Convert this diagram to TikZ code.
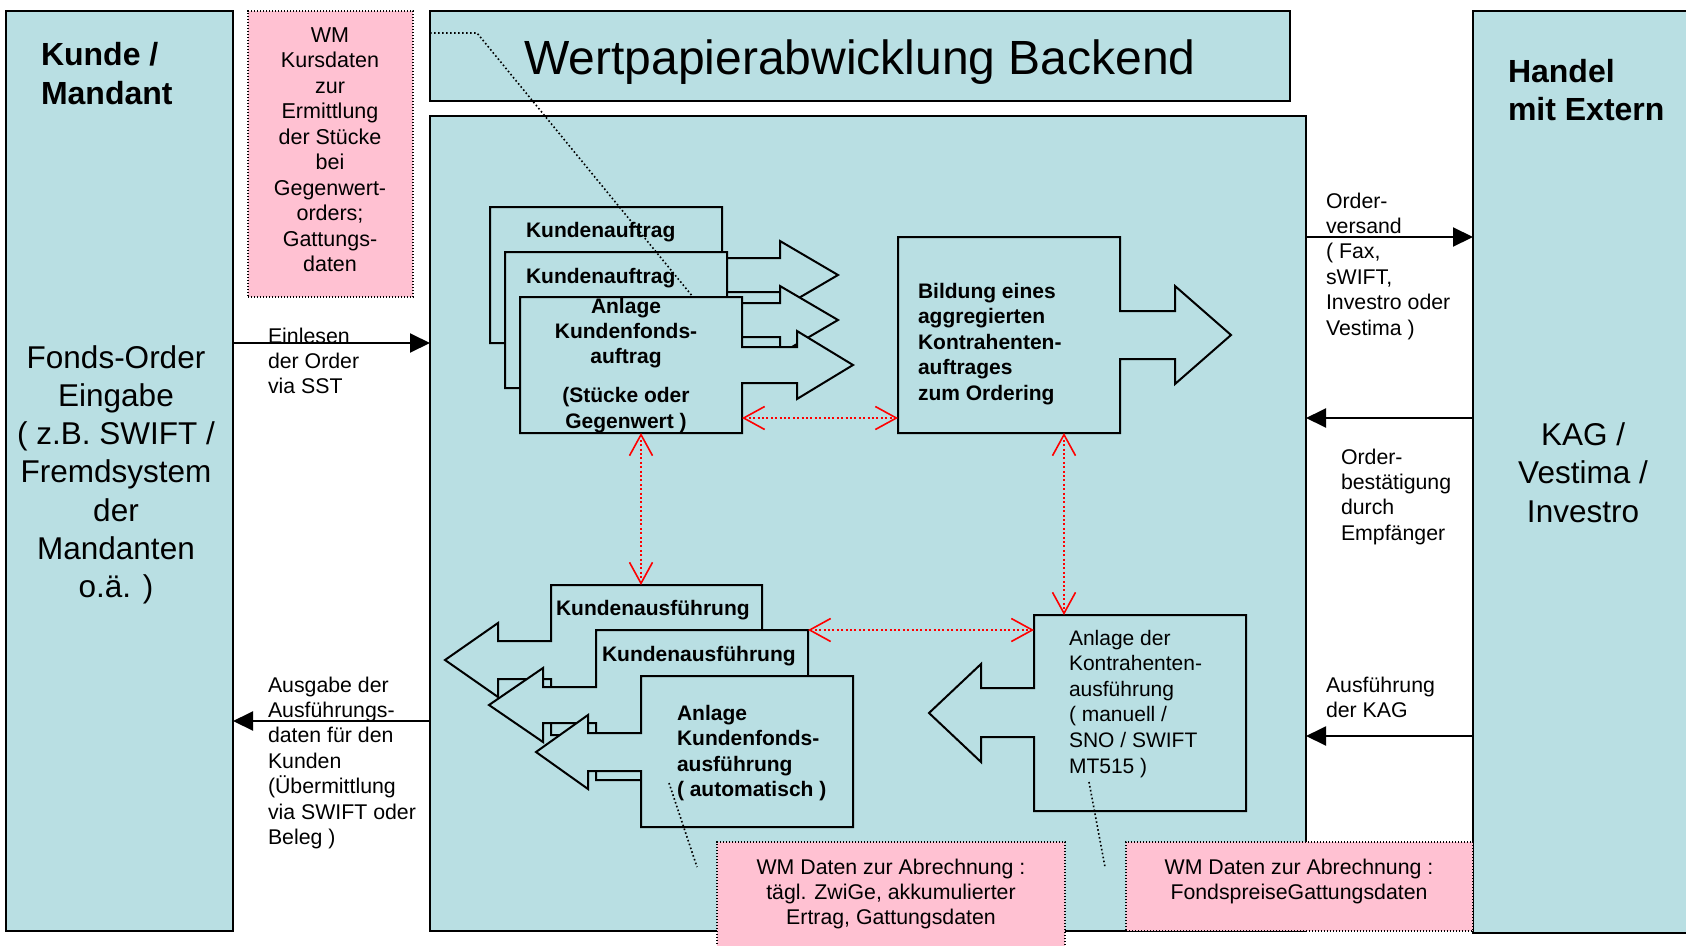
\documentclass[tikz,border=0pt]{standalone}
\usepackage{fontspec}
\setmainfont{Liberation Sans}
\usetikzlibrary{arrows.meta}
\definecolor{panelblue}{RGB}{185,223,227}
\definecolor{notepink}{RGB}{255,193,210}
\definecolor{linkred}{RGB}{255,0,0}
\newcommand\LinesL[1]{\vtop{\halign{##\hfil\cr#1\crcr}}}
\newcommand\LinesC[1]{\vtop{\halign{\hfil##\hfil\cr#1\crcr}}}
\tikzset{
  panel/.style={draw=black, line width=2pt, fill=panelblue, inner sep=0pt, outer sep=0pt, anchor=north west},
  note/.style={draw=black, line width=1.4pt, dash pattern=on 1.4pt off 1.6pt, fill=notepink, inner sep=0pt, outer sep=0pt, anchor=north west},
  shp/.style={draw=black, line width=2pt, fill=panelblue, line join=miter},
  area/.style={inner sep=0pt, outer sep=0pt, anchor=north west},
  flow/.style={line width=2pt, -{Triangle[length=20pt,width=19pt]}},
  link/.style={draw=linkred, line width=1.6pt, dash pattern=on 2pt off 2.4pt,
     {Straight Barb[length=21pt,width=23pt]}-{Straight Barb[length=21pt,width=23pt]}},
  callout/.style={line width=1.6pt, dash pattern=on 1.6pt off 2.4pt},
  small/.style={font=\fontsize{21.3}{25.4}\selectfont, inner sep=0pt, outer sep=0pt, anchor=base west},
  smallc/.style={small, anchor=base},
  boldtxt/.style={font=\fontsize{21}{25.4}\selectfont\bfseries, inner sep=0pt, outer sep=0pt, anchor=base west},
  boldc/.style={boldtxt, anchor=base},
  big/.style={font=\fontsize{31.5}{38.3}\selectfont, inner sep=0pt, outer sep=0pt, anchor=base},
  bigbold/.style={font=\fontsize{32}{39}\selectfont\bfseries, inner sep=0pt, outer sep=0pt, anchor=base west},
}
\begin{document}
\begin{tikzpicture}[x=1pt,y=-1pt]
\useasboundingbox[fill=white] (0,0) rectangle (1686,945);

% panels
\node[panel, minimum width=227pt, minimum height=920pt] (kunde) at (6,11) {};
\node[note, minimum width=165pt, minimum height=286pt] (wmtop) at (248,11) {};
\node[panel, minimum width=860pt, minimum height=90pt] (title) at (430,11) {};
\node[panel, minimum width=876pt, minimum height=815pt] (main) at (430,116) {};
\node[panel, minimum width=240pt, minimum height=922pt] (handel) at (1473,11) {};

% box areas of the shapes
\node[area, minimum width=232pt, minimum height=136pt] (ka1area) at (490,207) {};
\node[area, minimum width=222pt, minimum height=136pt] (ka2area) at (505,252) {};
\node[area, minimum width=222pt, minimum height=136pt] (ka3area) at (520,297) {};
\node[area, minimum width=222pt, minimum height=196pt] (bildarea) at (898,237) {};
\node[area, minimum width=211pt, minimum height=150pt] (kaAarea) at (551,585) {};
\node[area, minimum width=212pt, minimum height=150pt] (kaBarea) at (596,630) {};
\node[area, minimum width=212pt, minimum height=151pt] (kaCarea) at (641,676) {};
\node[area, minimum width=212pt, minimum height=196pt] (kontarea) at (1034,615) {};

% shapes
\draw[shp] (490,207) -- (722,207) -- (722,258) -- (780,258) -- (780,241) -- (838,275) -- (780,309) -- (780,292) -- (722,292) -- (722,343) -- (490,343) -- cycle;
\draw[shp] (505,252) -- (727,252) -- (727,303) -- (780,303) -- (780,286) -- (838,320) -- (780,354) -- (780,337) -- (727,337) -- (727,388) -- (505,388) -- cycle;
\draw[shp] (520,297) -- (742,297) -- (742,347) -- (797,347) -- (797,331) -- (853,365) -- (797,399) -- (797,383) -- (742,383) -- (742,433) -- (520,433) -- cycle;
\draw[shp] (898,237) -- (1120,237) -- (1120,311) -- (1175,311) -- (1175,286) -- (1231,335) -- (1175,384) -- (1175,359) -- (1120,359) -- (1120,433) -- (898,433) -- cycle;
\draw[shp] (551,585) -- (762,585) -- (762,735) -- (551,735) -- (551,679) -- (498,679) -- (498,697) -- (445,660) -- (498,623) -- (498,641) -- (551,641) -- cycle;
\draw[shp] (596,630) -- (808,630) -- (808,780) -- (596,780) -- (596,723) -- (543,723) -- (543,742) -- (489,705) -- (543,668) -- (543,687) -- (596,687) -- cycle;
\draw[shp] (641,676) -- (853,676) -- (853,827) -- (641,827) -- (641,771) -- (588,771) -- (588,789) -- (536,752) -- (588,715) -- (588,733) -- (641,733) -- cycle;
\draw[shp] (1034,615) -- (1246,615) -- (1246,811) -- (1034,811) -- (1034,737) -- (981,737) -- (981,762) -- (929,713) -- (981,664) -- (981,688) -- (1034,688) -- cycle;

% red links
\draw[link] (ka3area.east |- 0,418) -- (bildarea.west |- 0,418);
\draw[link] (ka3area.south -| 641,0) -- (kaAarea.north -| 641,0);
\draw[link] (bildarea.south -| 1064,0) -- (kontarea.north -| 1064,0);
\draw[link] (kaBarea.north east) -- (kontarea.west |- kaBarea.north east);

% black flows
\draw[flow] (kunde.east |- 0,343) -- (main.west |- 0,343);
\draw[flow] (main.west |- 0,721) -- (kunde.east |- 0,721);
\draw[flow] (main.east |- 0,237) -- (handel.west |- 0,237);
\draw[flow] (handel.west |- 0,418) -- (main.east |- 0,418);
\draw[flow] (handel.west |- 0,736) -- (main.east |- 0,736);

% bottom notes
\node[note, minimum width=348pt, minimum height=112pt] (wm1) at (717,842) {};
\node[note, minimum width=347pt, minimum height=89pt] (wm2) at (1126,842) {};

% callouts
\coordinate (co1a) at (477,33);
\draw[callout] (title.west |- 0,33) -- (co1a) -- (ka3area.north -| 693,0);
\coordinate (co2a) at (669,783);
\coordinate (co2b) at (697,867);
\draw[callout] (co2a) -- (co2b);
\coordinate (co3a) at (1089,782);
\coordinate (co3b) at (1105,867);
\draw[callout] (co3a) -- (co3b);

% texts
\node[bigbold] (kundeT) at (41,65) {\LinesL{Kunde /\cr Mandant}};
\node[big] (fondsT) at (116,368) {\LinesC{Fonds-Order\cr Eingabe\cr ( z.B. SWIFT /\cr Fremdsystem\cr der\cr Mandanten\cr o.ä. )}};
\node[font=\fontsize{21.5}{25.5}\selectfont, inner sep=0pt, anchor=base] (wmtopT) at (330,42) {\LinesC{WM\cr Kursdaten\cr zur\cr Ermittlung\cr der Stücke\cr bei\cr Gegenwert-\cr orders;\cr Gattungs-\cr daten}};
\node[font=\fontsize{48}{56}\selectfont, inner sep=0pt, anchor=base] (titleT) at (860,74) {Wertpapierabwicklung Backend};
\node[bigbold, font=\fontsize{32}{38}\selectfont\bfseries] (handelT) at (1508,82) {\LinesL{Handel\cr mit Extern}};
\node[big, font=\fontsize{31.5}{38.5}\selectfont] (kagT) at (1583,445) {\LinesC{KAG /\cr Vestima /\cr Investro}};

\node[small] (einT) at (268,343) {\LinesL{Einlesen\cr der Order\cr via SST}};
\node[small] (ausgT) at (268,692) {\LinesL{Ausgabe der\cr Ausführungs-\cr daten für den\cr Kunden\cr (Übermittlung\cr via SWIFT oder\cr Beleg )}};
\node[small] (versT) at (1326,208) {\LinesL{Order-\cr versand\cr ( Fax,\cr sWIFT,\cr Investro oder\cr Vestima )}};
\node[small] (bestT) at (1341,464) {\LinesL{Order-\cr bestätigung\cr durch\cr Empfänger}};
\node[small] (kagausT) at (1326,692) {\LinesL{Ausführung\cr der KAG}};
\node[smallc] (wm1T) at (891,874) {\LinesC{WM Daten zur Abrechnung :\cr tägl. ZwiGe, akkumulierter\cr Ertrag, Gattungsdaten}};
\node[smallc] (wm2T) at (1299,874) {\LinesC{WM Daten zur Abrechnung :\cr FondspreiseGattungsdaten}};

\node[boldtxt] (ka1T) at (526,237) {Kundenauftrag};
\node[boldtxt] (ka2T) at (526,283) {Kundenauftrag};
\node[boldc] (ka3T) at (626,313) {\LinesC{Anlage\cr Kundenfonds-\cr auftrag\cr\noalign{\vskip 13.5pt}(Stücke oder\cr Gegenwert )}};
\node[boldtxt, font=\fontsize{21}{25.5}\selectfont\bfseries] (bildT) at (918,298) {\LinesL{Bildung eines\cr aggregierten\cr Kontrahenten-\cr auftrages\cr zum Ordering}};
\node[boldtxt] (kaAT) at (556,615) {Kundenausführung};
\node[boldtxt] (kaBT) at (602,661) {Kundenausführung};
\node[boldtxt, font=\fontsize{21}{25.6}\selectfont\bfseries] (kaCT) at (677,720) {\LinesL{Anlage\cr Kundenfonds-\cr ausführung\cr ( automatisch )}};
\node[small, font=\fontsize{21}{25.6}\selectfont] (kontT) at (1069,645) {\LinesL{Anlage der\cr Kontrahenten-\cr ausführung\cr ( manuell /\cr SNO / SWIFT\cr MT515 )}};
\end{tikzpicture}
\end{document}
